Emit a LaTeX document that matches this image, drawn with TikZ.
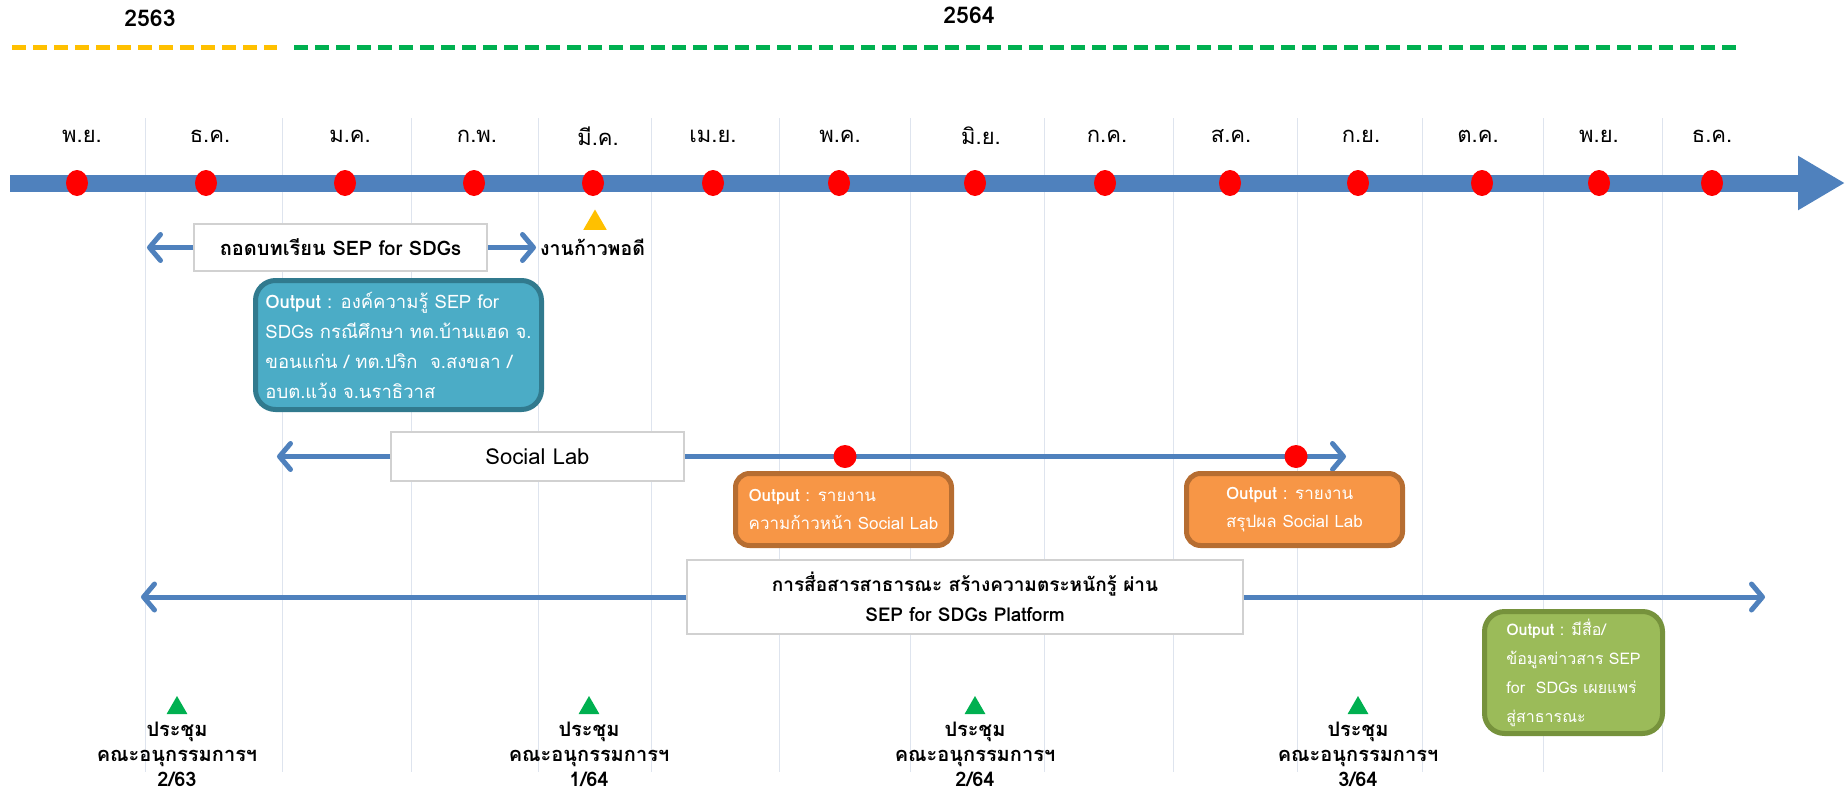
\documentclass[tikz,border=0pt]{standalone}
\usepackage{fontspec}
\setmainfont{Loma}[Script=Thai]
\usepackage{xcolor}
\definecolor{axisblue}{RGB}{79,129,189}
\definecolor{gridgray}{RGB}{222,228,238}
\definecolor{yearorange}{RGB}{255,192,0}
\definecolor{yeargreen}{RGB}{0,176,80}
\definecolor{dotred}{RGB}{255,0,0}
\definecolor{outblue}{RGB}{75,172,198}
\definecolor{outblueline}{RGB}{49,122,142}
\definecolor{outorange}{RGB}{247,150,70}
\definecolor{outorangeline}{RGB}{182,109,49}
\definecolor{outgreen}{RGB}{155,187,89}
\definecolor{outgreenline}{RGB}{118,146,60}
\usetikzlibrary{arrows.meta}
\usetikzlibrary{shapes.geometric}
\usetikzlibrary{positioning}

\tikzset{
	yearlabel/.style={font=\bfseries\fontsize{23}{28}\selectfont, inner sep=0},
	yearbar/.style={line width=5pt, dash pattern=on 14pt off 7pt},
	gridline/.style={gridgray, line width=1pt},
	mainaxis/.style={axisblue, line width=17pt, -{Triangle[length=47pt, width=51pt]}},
	month/.style={font=\fontsize{22}{26}\selectfont, inner sep=0},
	actbox/.style={draw=black!18, fill=white, line width=1.5pt, inner sep=0, font=\fontsize{21}{30}\selectfont},
	rowarrow/.style={axisblue, line width=5pt, -{Straight Barb[length=11pt, width=26pt, line cap=round, line join=round]}},
	outbox/.style={rounded corners=20pt, line width=5pt, text=white, align=left, inner sep=0, font=\fontsize{18.5}{30}\selectfont},
	meettri/.style={regular polygon, regular polygon sides=3, minimum size=24pt, inner sep=0},
	meetlabel/.style={align=center, inner sep=0, font=\bfseries\fontsize{20}{25}\selectfont}
}

\begin{document}
\begin{tikzpicture}[x=1pt, y=-1pt]
	\useasboundingbox (0,0) rectangle (1847,798);

	%years
	\node[yearlabel] (y63) at (150,18) {2563};
	\node[yearlabel] (y64) at (969,15) {2564};
	\draw[yearbar, yearorange] (12,47) -- (277,47);
	\draw[yearbar, yeargreen] (294,47) -- (1737,47);

	%draw vertical lines
	\foreach \x in {145,282,411,538,651,779,910,1044,1173,1297,1422,1543,1662}
	\draw[gridline] (\x,118) -- (\x,772);

	%draw month axis
	\coordinate (axisstart) at (10,183);
	\coordinate (axisend) at (1845,183);
	\draw[mainaxis] (axisstart) -- (axisend);

	%months & dots
	\foreach \x/\m [count=\i] in {82/พ.ย.,210/ธ.ค.,350/ม.ค.,477/ก.พ.,598/มี.ค.,713/เม.ย.,840/พ.ค.,981/มิ.ย.,1107/ก.ค.,1231/ส.ค.,1361/ก.ย.,1478/ต.ค.,1599/พ.ย.,1712/ธ.ค.}
	\node[month] (mon\i) at (\x,136) {\m};
	\foreach \x in {77,206,345,474,593,713,839,975,1105,1230,1358,1482,1599,1712}
	\fill[dotred] (\x,183) ellipse (11pt and 13pt);

	%lesson learned
	\node[meettri, fill=yearorange, minimum size=27pt] (kaopodi) at (595,223) {};
	\node[actbox, minimum width=293pt, minimum height=47pt, font=\bfseries\fontsize{20}{23}\selectfont] (lesson) at (340.5,247.5) {ถอดบทเรียน SEP for SDGs};
	\coordinate (lessonL) at (147,247.5);
	\coordinate (lessonR) at (536,247.5);
	\draw[rowarrow] (lesson) -- (lessonL);
	\draw[rowarrow] (lesson) -- (lessonR);
	\node[right=4pt of lessonR, inner sep=0, font=\bfseries\fontsize{19.5}{23}\selectfont] (kaopoditxt) {งานก้าวพอดี};
	\node[outbox, fill=outblue, draw=outblueline, minimum width=286pt, minimum height=129pt] (out1) at (398.5,345) {\textbf{Output} : องค์ความรู้ SEP for\\SDGs กรณีศึกษา ทต.บ้านแฮด จ.\\ขอนแก่น / ทต.ปริก \ จ.สงขลา /\\อบต.แว้ง จ.นราธิวาส};

	%social lab
	\node[actbox, minimum width=293pt, minimum height=49pt, font=\fontsize{22}{30}\selectfont] (social) at (537.5,456.5) {Social Lab};
	\coordinate (socialL) at (277,456.5);
	\coordinate (socialR) at (1346,456.5);
	\draw[rowarrow] (social) -- (socialL);
	\draw[rowarrow] (social) -- (socialR);
	\fill[dotred] (845,456.5) circle (11.5pt);
	\fill[dotred] (1296,456.5) circle (11.5pt);
	\node[outbox, fill=outorange, draw=outorangeline, minimum width=216pt, minimum height=72pt, rounded corners=14pt, font=\fontsize{17}{28}\selectfont] (out2) at (843.5,509.5) {\textbf{Output} : รายงาน\\ความก้าวหน้า Social Lab};
	\node[outbox, fill=outorange, draw=outorangeline, minimum width=216pt, minimum height=72pt, rounded corners=14pt, font=\fontsize{17}{28}\selectfont] (out3) at (1294.5,509.5) {\textbf{Output} : รายงาน\\สรุปผล Social Lab};

	%public communication
	\node[actbox, minimum width=556pt, minimum height=74pt, align=center, font=\bfseries\fontsize{19}{30}\selectfont] (comm) at (965,597) {การสื่อสารสาธารณะ สร้างความตระหนักรู้ ผ่าน\\SEP for SDGs Platform};
	\coordinate (commL) at (141,597);
	\coordinate (commR) at (1765,597);
	\draw[rowarrow] (comm) -- (commL);
	\draw[rowarrow] (comm) -- (commR);
	\node[outbox, fill=outgreen, draw=outgreenline, minimum width=178pt, minimum height=122pt, font=\fontsize{16}{29}\selectfont] (out4) at (1573.5,672.5) {\textbf{Output} : มีสื่อ/\\ข้อมูลข่าวสาร SEP\\for \ SDGs เผยแพร่\\สู่สาธารณะ};

	%meetings
	\foreach \x/\n/\t in {177/a/{2/63},589/b/{1/64},975/c/{2/64},1358/d/{3/64}}{
		\node[meettri, fill=yeargreen] (meet\n) at (\x,708) {};
		\node[meetlabel, below=8pt of meet\n] (meet\n txt) {ประชุม\\คณะอนุกรรมการฯ\\\t};
	}
\end{tikzpicture}
\end{document}
